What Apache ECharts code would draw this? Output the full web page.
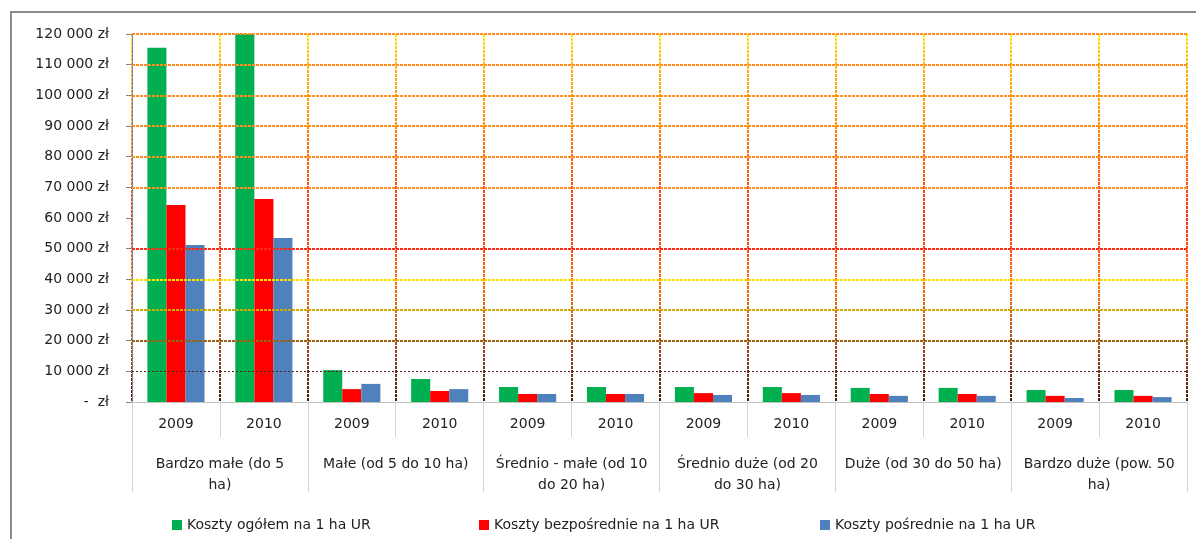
<!DOCTYPE html>
<html>
<head>
<meta charset="utf-8">
<script src="https://cdn.jsdelivr.net/npm/echarts@6/dist/echarts.min.js"></script>
<style>
  html, body { margin: 0; padding: 0; background: #fff; }
  #chart { width: 1196px; height: 539px; }
</style>
</head>
<body>
<div id="chart"></div>
<script>
// dane
var years = ['2009', '2010', '2009', '2010', '2009', '2010', '2009', '2010', '2009', '2010', '2009', '2010'];
var groups = ['Bardzo małe (do 5\nha)', 'Małe (od 5 do 10 ha)', 'Średnio - małe (od 10\ndo 20 ha)',
              'Średnio duże (od 20\ndo 30 ha)', 'Duże (od 30 do 50 ha)', 'Bardzo duże (pow. 50\nha)'];
var seriesNames = ['Koszty ogółem na 1 ha UR', 'Koszty bezpośrednie na 1 ha UR', 'Koszty pośrednie na 1 ha UR'];
var kosztyOgolem = [115500, 120000, 10400, 7500, 4900, 4900, 4900, 4900, 4600, 4600, 3900, 3900];
var kosztyBezposrednie = [64200, 66200, 4200, 3600, 2600, 2600, 2900, 2900, 2600, 2600, 2000, 2000];
var kosztyPosrednie = [51200, 53500, 5900, 4200, 2600, 2600, 2300, 2300, 2000, 2000, 1300, 1600];

// poziome linie siatki (brak linii na 60 000)
var gridValues = [10000, 20000, 30000, 40000, 50000, 70000, 80000, 90000, 100000, 110000, 120000];
var gridColors = ['#5a1e14', '#9a6414', '#d2aa00', '#ffe100', '#ff2a14',
                  '#ff8c1e', '#ff8c1e', '#ff8c1e', '#ff8c1e', '#ff8c1e', '#ff8c1e'];

var barColors = ['#00b050', '#ff0000', '#4f81bd'];
var font = '"DejaVu Sans", sans-serif';
var legendLeft = [167, 474, 815];

var dom = document.getElementById('chart');
var myChart = echarts.init(dom);

function fmtZl(v) {
    if (v === 0) return '-  zł';
    return String(v).replace(/\B(?=(\d{3})+(?!\d))/g, ' ') + ' zł';
}

var gridLines = gridValues.map(function (v, i) {
    return {
        yAxis: v,
        lineStyle: { color: gridColors[i], width: i === 0 ? 1 : 2, type: i === 0 ? [2, 2] : [3, 1] }
    };
});

var legends = seriesNames.map(function (n, i) {
    return {
        left: legendLeft[i],
        top: 513,
        itemWidth: 10,
        itemHeight: 10,
        icon: 'rect',
        textStyle: { fontFamily: font, fontSize: 14, color: '#222' },
        data: [n]
    };
});

var option = {
    animation: false,
    textStyle: { fontFamily: font },
    graphic: [{
        type: 'rect',
        shape: { x: 11, y: 12, width: 1220, height: 600 },
        style: { fill: 'none', stroke: '#8c8c8c', lineWidth: 2 },
        silent: true
    }],
    legend: legends,
    grid: {
        left: 132,
        right: 9,
        top: 34,
        bottom: 137
    },
    xAxis: [
        {
            type: 'category',
            data: years,
            position: 'bottom',
            axisLine: { show: true, lineStyle: { color: '#bfbfbf', width: 1 } },
            axisTick: { show: true, interval: 0, length: 35, lineStyle: { color: '#d4d4d4', width: 1 } },
            axisLabel: { interval: 0, margin: 15, fontSize: 14, color: '#222', fontFamily: font },
            splitLine: {
                show: true,
                interval: 0,
                lineStyle: {
                    type: [3, 1],
                    width: 2,
                    color: new echarts.graphic.LinearGradient(0, 34, 0, 402, [
                        { offset: 0, color: '#ffe600' },
                        { offset: 0.1, color: '#ffb000' },
                        { offset: 0.25, color: '#ff8a00' },
                        { offset: 0.5, color: '#ff2a10' },
                        { offset: 0.68, color: '#ff7000' },
                        { offset: 0.84, color: '#a0501a' },
                        { offset: 1, color: '#4a1410' }
                    ], true)
                }
            }
        },
        {
            type: 'category',
            data: groups,
            position: 'bottom',
            axisLine: { show: false },
            axisTick: { show: true, interval: 0, length: 90, lineStyle: { color: '#d4d4d4', width: 1 } },
            axisLabel: { interval: 0, margin: 52, fontSize: 14, lineHeight: 21, color: '#222', fontFamily: font },
            splitLine: { show: false }
        }
    ],
    yAxis: {
        type: 'value',
        min: 0,
        max: 120000,
        interval: 10000,
        axisLine: { show: true, lineStyle: { color: '#868686', width: 1 } },
        axisTick: { show: true, length: 6, lineStyle: { color: '#868686' } },
        axisLabel: {
            margin: 23,
            fontSize: 14,
            color: '#222',
            fontFamily: font,
            formatter: fmtZl
        },
        splitLine: { show: false }
    },
    series: [
        {
            name: 'siatka',
            type: 'line',
            data: [],
            z: 1,
            silent: true,
            markLine: {
                silent: true,
                animation: false,
                symbol: ['none', 'none'],
                label: { show: false },
                data: gridLines
            }
        },
        {
            name: seriesNames[0],
            type: 'bar',
            data: kosztyOgolem,
            barGap: '0%',
            barCategoryGap: '35%',
            itemStyle: { color: barColors[0] },
            z: 3
        },
        {
            name: seriesNames[1],
            type: 'bar',
            data: kosztyBezposrednie,
            itemStyle: { color: barColors[1] },
            z: 3
        },
        {
            name: seriesNames[2],
            type: 'bar',
            data: kosztyPosrednie,
            itemStyle: { color: barColors[2] },
            z: 3
        }
    ]
};

if (option && typeof option === "object") {
    myChart.setOption(option, true);
}
</script>
</body>
</html>
